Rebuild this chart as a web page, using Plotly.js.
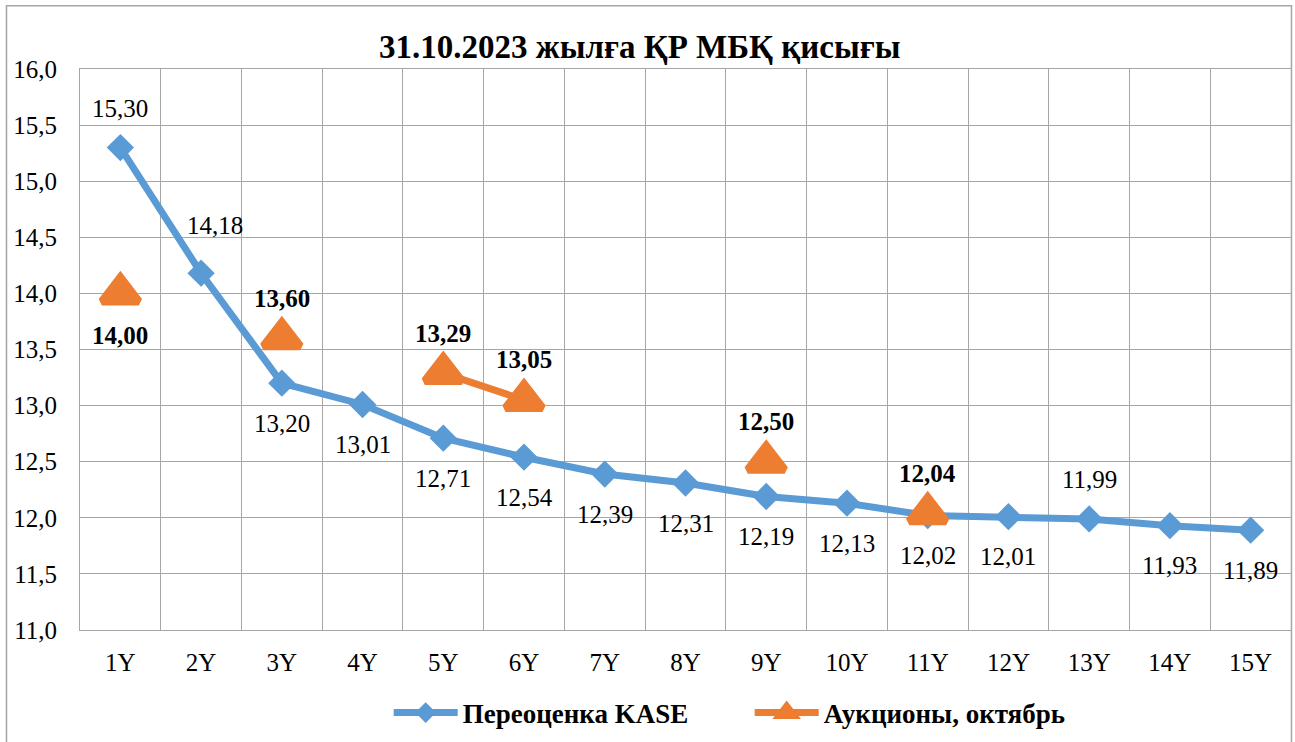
<!DOCTYPE html>
<html>
<head>
<meta charset="utf-8">
<script src="https://cdn.plot.ly/plotly-3.0.1.min.js"></script>
<style>
  html, body { margin: 0; padding: 0; background: #ffffff; }
  #chart { width: 1295px; height: 742px; }
</style>
</head>
<body>
<div id="chart"></div>
<script>
// ---- Data ----
const categories = ['1Y','2Y','3Y','4Y','5Y','6Y','7Y','8Y','9Y','10Y','11Y','12Y','13Y','14Y','15Y'];
const kaseValues = [15.30, 14.18, 13.20, 13.01, 12.71, 12.54, 12.39, 12.31, 12.19, 12.13, 12.02, 12.01, 11.99, 11.93, 11.89];
const auctionValues = [14.00, null, 13.60, null, 13.29, 13.05, null, null, 12.50, null, 12.04, null, null, null, null];
const seriesNames = ['Переоценка KASE', 'Аукционы, октябрь'];
const titleText = '31.10.2023 жылға ҚР МБҚ қисығы';

// label placement (u = above, d = below, r = above-right)
const kasePlace = ['u','r','d','d','d','d','d','d','d','d','d','d','u','d','d'];
const auctionPlace = ['d',null,'u',null,'u','u',null,null,'u',null,'u',null,null,null,null];

const BLUE = '#5b9bd5';
const ORANGE = '#ed7d31';
const FONT = '"Liberation Serif", "Times New Roman", serif';

function fmt(v) { return v.toFixed(2).replace('.', ','); }

const annotations = [];
kaseValues.forEach((v, i) => {
  const p = kasePlace[i];
  annotations.push({
    x: categories[i], y: v, xref: 'x', yref: 'y',
    text: fmt(v), showarrow: false,
    font: { family: FONT, size: 25, color: '#000000' },
    xshift: p === 'r' ? 14 : 0,
    yshift: p === 'd' ? -40 : (p === 'r' ? 48 : 39)
  });
});
auctionValues.forEach((v, i) => {
  if (v === null) return;
  const p = auctionPlace[i];
  annotations.push({
    x: categories[i], y: v, xref: 'x', yref: 'y',
    text: '<b>' + fmt(v) + '</b>', showarrow: false,
    font: { family: FONT, size: 25, color: '#000000' },
    yshift: p === 'd' ? -42 : 40
  });
});

const traces = [
  {
    type: 'scatter', mode: 'lines+markers', name: seriesNames[0],
    x: categories, y: kaseValues,
    line: { color: BLUE, width: 7 },
    marker: { symbol: 'diamond', size: 21, color: BLUE },
    hoverinfo: 'x+y'
  },
  {
    type: 'scatter', mode: 'lines+markers', name: seriesNames[1],
    x: categories, y: auctionValues,
    connectgaps: false,
    line: { color: ORANGE, width: 7 },
    marker: { symbol: 'triangle-up', size: 32, color: ORANGE, line: { color: ORANGE, width: 8 } },
    hoverinfo: 'x+y'
  }
];

const layout = {
  width: 1295, height: 742,
  margin: { l: 80, r: 4, t: 69, b: 112 },
  paper_bgcolor: '#ffffff', plot_bgcolor: '#ffffff',
  separators: ', ',
  font: { family: FONT, size: 25, color: '#000000' },
  title: {
    text: '<b>' + titleText + '</b>',
    font: { family: FONT, size: 33, color: '#000000' },
    x: 0.494, xanchor: 'center', y: 0.937, yanchor: 'middle'
  },
  xaxis: {
    type: 'category', range: [-0.5, 14.5],
    tickson: 'boundaries', ticks: '',
    showgrid: true, gridcolor: '#a6a6a6', gridwidth: 1,
    showline: true, linecolor: '#a6a6a6', linewidth: 1, mirror: true,
    tickfont: { family: FONT, size: 25, color: '#000000' },
    ticklabelstandoff: 10,
    fixedrange: true
  },
  yaxis: {
    range: [11, 16], dtick: 0.5, tick0: 11, tickformat: '.1f',
    showgrid: true, gridcolor: '#a6a6a6', gridwidth: 1,
    showline: true, linecolor: '#a6a6a6', linewidth: 1, mirror: true,
    zeroline: false, ticks: '',
    tickfont: { family: FONT, size: 25, color: '#000000' },
    ticklabelstandoff: 17,
    fixedrange: true
  },
  showlegend: true,
  legend: {
    orientation: 'h', x: 0.553, xanchor: 'center', y: -0.148, yanchor: 'middle',
    font: { family: FONT, size: 27, color: '#000000', weight: 'bold' },
    itemwidth: 64, entrywidth: 282, entrywidthmode: 'pixels',
    bgcolor: 'rgba(0,0,0,0)', traceorder: 'normal'
  },
  annotations: annotations,
  shapes: [{
    type: 'rect', xref: 'paper', yref: 'paper',
    x0: -0.0607, x1: 1.0004, y0: -0.3, y1: 1.1126,
    line: { color: '#a6a6a6', width: 1.5 }, fillcolor: 'rgba(0,0,0,0)', layer: 'below'
  }]
};

Plotly.newPlot('chart', traces, layout, { displayModeBar: false, staticPlot: true });
</script>
</body>
</html>
